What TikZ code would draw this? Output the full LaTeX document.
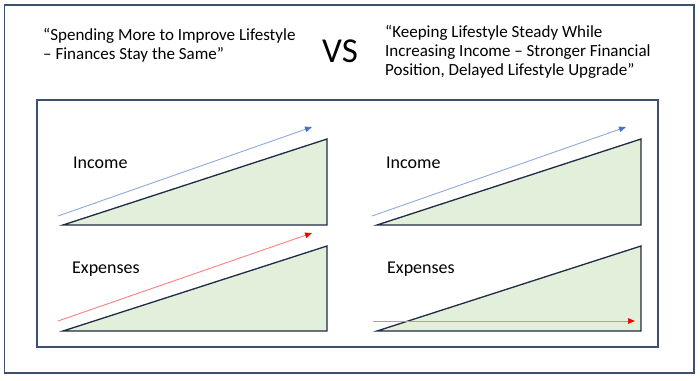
\documentclass[tikz,border=0pt]{standalone}
\usepackage{fontspec}
\setmainfont{Carlito}
\usetikzlibrary{arrows.meta}
\definecolor{framecol}{HTML}{3E5070}
\definecolor{tricol}{HTML}{1F2A44}
\definecolor{trifill}{HTML}{E2EFDA}
\definecolor{incline}{HTML}{8EA9DB}
\definecolor{inchead}{HTML}{4472C4}
\definecolor{expline}{HTML}{FF7F7F}
\definecolor{exphead}{HTML}{FF0000}
\tikzset{
  wedge/.style = {fill=trifill, draw=tricol, line width=1.3pt, line join=miter},
  panelbox/.style = {draw=framecol, line width=1.5pt},
  rowlabel/.style = {anchor=base west, inner sep=0pt, font=\fontsize{18}{18}\selectfont},
  headtext/.style = {anchor=north west, inner sep=0pt, align=left},
  incarrow/.style = {incline, line width=0.9pt, -{Triangle[length=7pt, width=5.5pt, color=inchead]}},
  exparrow/.style = {expline, line width=0.9pt, -{Triangle[length=7pt, width=5.5pt, color=exphead]}}
}
\begin{document}
\begin{tikzpicture}[x=1pt, y=-1pt, font=\fontsize{17}{18.7}\selectfont]
        \useasboundingbox (0,0) rectangle (700,380);

        \draw[panelbox] (4.5,5) rectangle (694,373);
        \draw[panelbox] (37,100) rectangle (658,347);

        \node[headtext] (lefthead) at (43,28.5) {“Spending More to Improve Lifestyle\\– Finances Stay the Same”};
        \node[anchor=base, inner sep=0pt, font=\fontsize{35}{35}\selectfont] (vs) at (340,62) {VS};
        \node[headtext] (righthead) at (385,25.5) {“Keeping Lifestyle Steady While\\Increasing Income – Stronger Financial\\Position, Delayed Lifestyle Upgrade”};

        % spending more
        \begin{scope}
        \path[wedge] (63,225) -- (327,139) -- (327,225) -- cycle;
        \path[wedge] (63,331) -- (327,246) -- (327,331) -- cycle;

        \node[rowlabel] (incleft) at (73,168) {Income};
        \node[rowlabel] (expleft) at (72,273) {Expenses};

        \coordinate (incleftA) at (58,216);
        \coordinate (incleftB) at (312,127);
        \draw[incarrow] (incleftA) -- (incleftB);

        \coordinate (expleftA) at (58,321);
        \coordinate (expleftB) at (312,233);
        \draw[exparrow] (expleftA) -- (expleftB);
        \end{scope}

        % keeping lifestyle steady
        \begin{scope}[xshift = 314pt]
        \path[wedge] (63,225) -- (327,139) -- (327,225) -- cycle;
        \path[wedge] (63,331) -- (327,246) -- (327,331) -- cycle;

        \node[rowlabel] (incright) at (72,168) {Income};
        \node[rowlabel] (expright) at (73,273) {Expenses};

        \coordinate (incrightA) at (58,216);
        \coordinate (incrightB) at (312,127);
        \draw[incarrow] (incrightA) -- (incrightB);

        \coordinate (exprightA) at (59,321);
        \coordinate (exprightB) at (321,321);
        \draw[exparrow] (exprightA) -- (exprightB);
        \end{scope}
\end{tikzpicture}
\end{document}
